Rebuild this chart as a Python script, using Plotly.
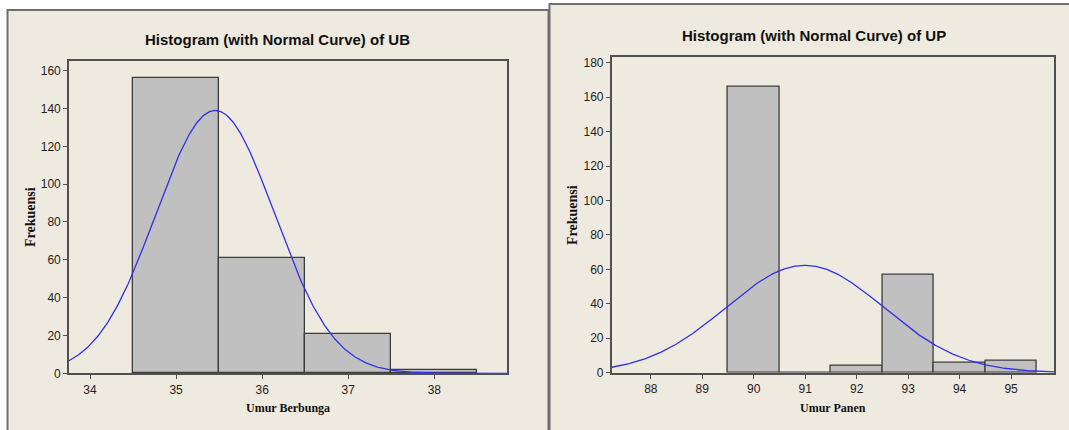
import numpy as np
import plotly.graph_objects as go

# ---- data ----
ub_bins = [35, 36, 37, 38]
ub_counts = [156, 61, 21, 2]
ub_ticks = [34, 35, 36, 37, 38]

up_bins = [90, 91, 92, 93, 94, 95]
up_counts = [166, 0, 4, 57, 6, 7]
up_ticks = [88, 89, 90, 91, 92, 93, 94, 95]

W, H = 1069, 430
BEIGE = "#EEEAE0"
EDGE = "#6F6F6F"
BAR = "#C0C0C0"
BARLINE = "#3C3C3C"
CURVE = "#3030EE"


def px(x):
    return x / W


def py(y):
    return 1 - y / H


def normal_curve(bins, counts, xr):
    b = np.array(bins, float)
    c = np.array(counts, float)
    n = c.sum()
    mu = (b * c).sum() / n
    sd = np.sqrt(((b - mu) ** 2 * c).sum() / (n - 1))
    xs = np.linspace(xr[0], xr[1], 400)
    ys = n * 1.0 / (sd * np.sqrt(2 * np.pi)) * np.exp(-0.5 * ((xs - mu) / sd) ** 2)
    return xs, ys


ub_xr = [33.756, 38.844]
ub_yr = [0, 165.1]
up_xr = [87.24, 95.84]
up_yr = [0, 183.5]

fig = go.Figure()

fig.add_trace(go.Bar(x=ub_bins, y=ub_counts, width=1, xaxis="x", yaxis="y",
                     marker=dict(color=BAR, line=dict(color=BARLINE, width=1.3)),
                     showlegend=False, hoverinfo="x+y"))
cx, cy = normal_curve(ub_bins, ub_counts, ub_xr)
fig.add_trace(go.Scatter(x=cx, y=cy, mode="lines", xaxis="x", yaxis="y",
                         line=dict(color=CURVE, width=1.3), showlegend=False))

fig.add_trace(go.Bar(x=up_bins, y=up_counts, width=1, xaxis="x2", yaxis="y2",
                     marker=dict(color=BAR, line=dict(color=BARLINE, width=1.3)),
                     showlegend=False, hoverinfo="x+y"))
cx2, cy2 = normal_curve(up_bins, up_counts, up_xr)
fig.add_trace(go.Scatter(x=cx2, y=cy2, mode="lines", xaxis="x2", yaxis="y2",
                         line=dict(color=CURVE, width=1.3), showlegend=False))

SANS = "Liberation Sans, Arial, sans-serif"
tickfont = dict(family=SANS, size=12, color="#1E1E1E")
axis_common = dict(showline=True, mirror=True, linecolor="#505050", linewidth=1.6,
                   ticks="outside", ticklen=4, tickwidth=1, tickcolor="#505050",
                   showgrid=False, zeroline=False, tickfont=tickfont, fixedrange=True,
                   automargin=False)

fig.update_layout(
    template="none",
    width=W, height=H,
    autosize=False,
    margin=dict(l=0, r=0, t=0, b=0, pad=0),
    paper_bgcolor="white",
    plot_bgcolor="white",
    bargap=0,
    xaxis=dict(domain=[px(69), px(507)], range=ub_xr, tickvals=ub_ticks, anchor="y", **axis_common),
    yaxis=dict(domain=[py(373.3), py(61)], range=ub_yr, tickvals=list(range(0, 161, 20)), anchor="x", **axis_common),
    xaxis2=dict(domain=[px(611.7), px(1054.3)], range=up_xr, tickvals=up_ticks, anchor="y2", **axis_common),
    yaxis2=dict(domain=[py(372.7), py(56.7)], range=up_yr, tickvals=list(range(0, 181, 20)), anchor="x2", **axis_common),
    shapes=[
        dict(type="rect", xref="paper", yref="paper", x0=px(7.5), x1=px(548.5), y0=-0.05, y1=py(10),
             fillcolor=BEIGE, line=dict(color=EDGE, width=2), layer="below"),
        dict(type="rect", xref="paper", yref="paper", x0=px(549.5), x1=1.05, y0=-0.05, y1=py(4),
             fillcolor=BEIGE, line=dict(color=EDGE, width=2), layer="below"),
    ],
)

title_font = dict(family=SANS, size=15, color="#111111")
label_font = dict(family="Liberation Serif, Times New Roman, serif", size=12, color="#111111")
ylab_font = dict(family="Liberation Serif, Times New Roman, serif", size=14, color="#111111")

ann = [
    dict(text="<b>Histogram (with Normal Curve) of UB</b>", x=px(277), y=py(40), font=title_font),
    dict(text="<b>Histogram (with Normal Curve) of UP</b>", x=px(814), y=py(35), font=title_font),
    dict(text="<b>Umur Berbunga</b>", x=px(288), y=py(408), font=label_font),
    dict(text="<b>Umur Panen</b>", x=px(833), y=py(408), font=label_font),
    dict(text="<b>Frekuensi</b>", x=px(30), y=py(217), font=ylab_font, textangle=-90),
    dict(text="<b>Frekuensi</b>", x=px(572), y=py(215), font=ylab_font, textangle=-90),
]
for a in ann:
    a.update(xref="paper", yref="paper", showarrow=False, xanchor="center", yanchor="middle")
fig.update_layout(annotations=ann)

fig.write_html("out.html",
               config={"displayModeBar": False, "responsive": False},
               post_script="document.body.style.margin='0';document.body.style.overflow='hidden';")
